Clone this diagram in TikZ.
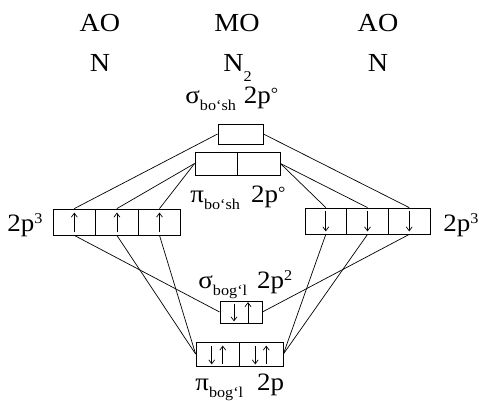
\documentclass[tikz,border=0pt]{standalone}
\usepackage{fontspec}
\setmainfont{Liberation Serif}[FakeStretch=1.08]
\usetikzlibrary{arrows.meta}
\newcommand{\lowsub}[1]{\raisebox{-7pt}{\fontsize{15}{15}\selectfont #1}}
\newcommand{\highsup}[1]{\raisebox{8pt}{\fontsize{15}{15}\selectfont #1}}
\newcommand{\degs}{\raisebox{4pt}{\fontsize{17}{17}\selectfont °}}
\begin{document}
\begin{tikzpicture}[x=1pt,y=-1pt,line width=0.8pt,
  cell/.style={draw,inner sep=0pt,minimum height=26pt,minimum width=42.6pt},
  mo/.style={draw,inner sep=0pt},
  head/.style={anchor=base,inner sep=0pt,font=\fontsize{26}{26}\selectfont},
  lab/.style={anchor=base west,inner sep=0pt,font=\fontsize{25}{25}\selectfont},
  spin/.style={line width=0.7pt,-{Straight Barb[length=4pt,width=6pt]}},
  conn/.style={line width=0.7pt}]
\useasboundingbox (0,0) rectangle (479,401);
% headers
\node[head] (ao1) at (100,32) {AO};
\node[head] (mo) at (237,32) {MO};
\node[head] (ao2) at (378,32) {AO};
\node[head] (n1) at (100,72) {N};
\node[head,anchor=base west] (n2) at (223,72) {N\raisebox{-10pt}{\fontsize{15}{15}\selectfont 2}};
\node[head] (n3) at (378,72) {N};
% atomic orbitals
\node[cell] (L1) at (74.3,222) {};
\node[cell] (L2) at (116.9,222) {};
\node[cell] (L3) at (159.5,222) {};
\node[cell,minimum width=41.7pt] (R1) at (325.8,221) {};
\node[cell,minimum width=41.7pt] (R2) at (367.5,221) {};
\node[cell,minimum width=41.7pt] (R3) at (409.2,221) {};
% molecular orbitals
\node[mo,minimum width=45pt,minimum height=20pt] (sa) at (240.5,134) {};
\node[mo,minimum width=42.5pt,minimum height=23pt] (P1) at (216.25,163.5) {};
\node[mo,minimum width=42.5pt,minimum height=23pt] (P2) at (258.75,163.5) {};
\node[mo,minimum width=42pt,minimum height=22pt] (sb) at (241,312) {};
\node[mo,minimum width=43.5pt,minimum height=24pt] (B1) at (217.75,354) {};
\node[mo,minimum width=43.5pt,minimum height=24pt] (B2) at (261.25,354) {};
% spins
\foreach \c in {L1,L2,L3} \draw[spin] ([yshift=3pt]\c.south) -- ([yshift=-4pt]\c.north);
\foreach \c in {R1,R2,R3} \draw[spin] ([yshift=-3pt]\c.north) -- ([yshift=3pt]\c.south);
\draw[spin] ([xshift=-7pt,yshift=-3pt]sb.north) -- ([xshift=-7pt,yshift=2pt]sb.south);
\draw[spin] ([xshift=7pt]sb.south) -- ([xshift=7pt,yshift=-1.5pt]sb.north);
\foreach \c in {B1,B2}{
  \draw[spin] ([xshift=-6pt,yshift=-4pt]\c.north) -- ([xshift=-6pt,yshift=2pt]\c.south);
  \draw[spin] ([xshift=5pt,yshift=2pt]\c.south) -- ([xshift=5pt,yshift=-4pt]\c.north);}
% connectors
\draw[conn] (sa.west) -- (L1.north);
\draw[conn] (P1.west) -- (L2.north);
\draw[conn] (P1.west) -- (L3.north);
\draw[conn] (sa.east) -- (R3.north);
\draw[conn] (P2.east) -- (R1.north);
\draw[conn] (P2.east) -- (R2.north);
\draw[conn] (L1.south) -- (sb.west);
\draw[conn] (L2.south) -- (B1.west);
\draw[conn] (L3.south) -- (B1.west);
\draw[conn] (R3.south) -- (sb.east);
\draw[conn] (R1.south) -- (B2.east);
\draw[conn] (R2.south) -- (B2.east);
% labels
\node[lab] (t1) at (185,104) {σ\lowsub{bo‘sh}\hspace{8pt}2p\degs};
\node[lab] (t2) at (190,202) {π\lowsub{bo‘sh}\hspace{11pt}2p\degs};
\node[lab] (t3) at (7,231) {2p\highsup{3}};
\node[lab] (t4) at (443,231) {2p\highsup{3}};
\node[lab] (t5) at (198,288) {σ\lowsub{bog‘l}\hspace{10pt}2p\highsup{2}};
\node[lab] (t6) at (195,390) {π\lowsub{bog‘l}\hspace{14pt}2p};
\end{tikzpicture}
\end{document}
